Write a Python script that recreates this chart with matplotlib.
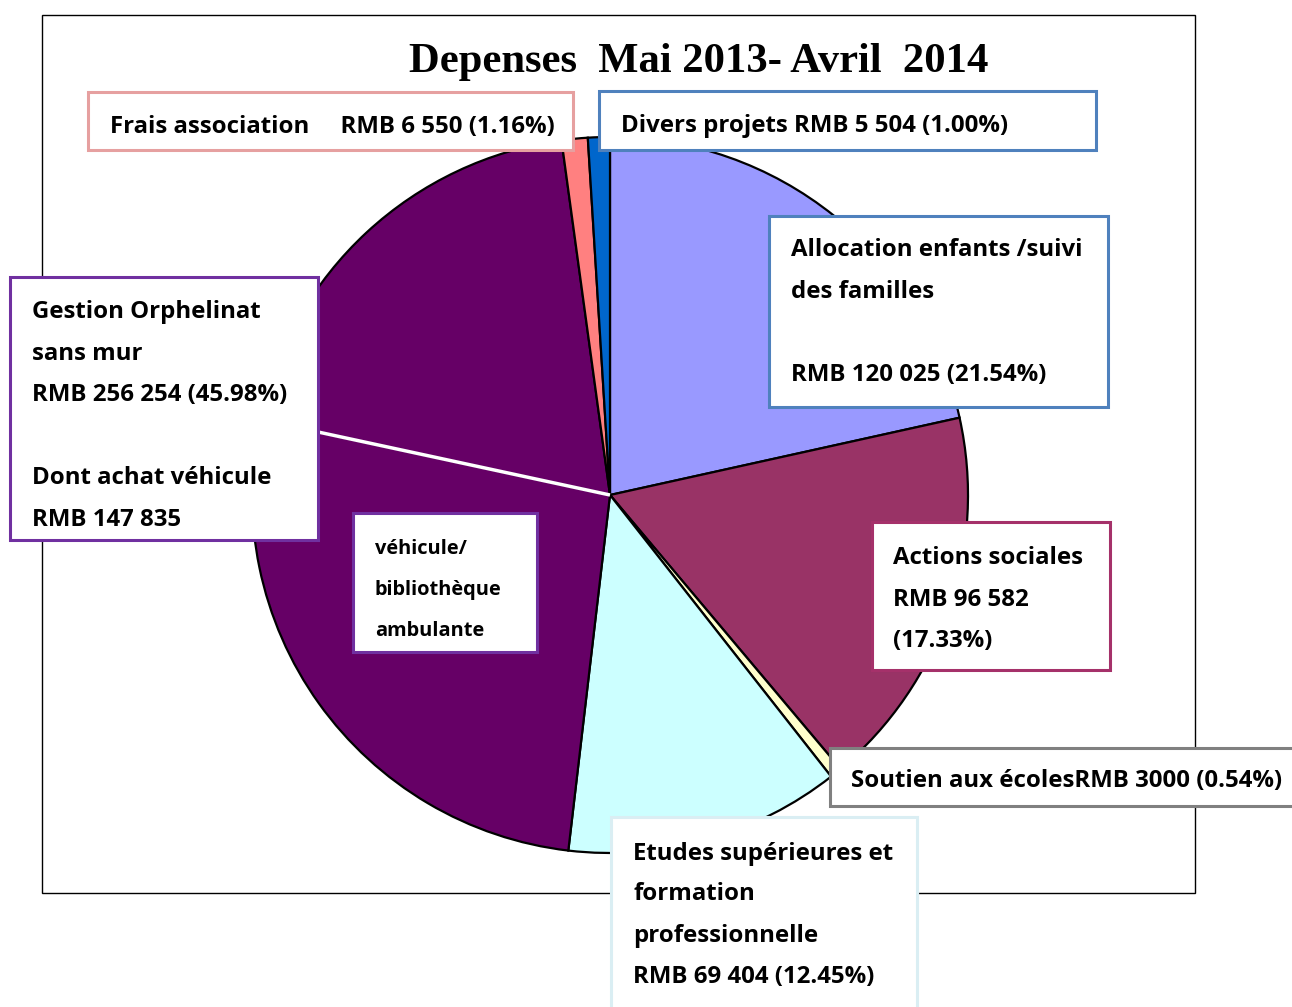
import numpy as np
import matplotlib
matplotlib.use("Agg")
import matplotlib.pyplot as plt
from matplotlib.patches import Rectangle

# ---- data ----
categories = ["Allocation enfants /suivi des familles", "Actions sociales",
              "Soutien aux écoles", "Etudes supérieures et formation professionnelle",
              "Gestion Orphelinat - achat véhicule", "Gestion Orphelinat - autres",
              "Frais association", "Divers projets"]
values = [120025, 96582, 3000, 69404, 147835, 108419, 6550, 5504]
colors = ["#9999FF", "#993366", "#FFFFCC", "#CCFFFF", "#660066", "#660066", "#FF8080", "#0066CC"]
title = "Depenses  Mai 2013- Avril  2014"

W, H = 1292, 1007
fig = plt.figure(figsize=(W / 100, H / 100), dpi=100)
ax = fig.add_axes([0, 0, 1, 1])
ax.set_xlim(0, W)
ax.set_ylim(0, H)
ax.set_aspect("equal")
ax.axis("off")

def Y(p):
    return H - p

# frame
ax.add_patch(Rectangle((42, Y(893)), 1195 - 42, 893 - 15, fill=False, ec="black", lw=1.0, zorder=1))

# pie
cx, cy, R = 610, Y(495), 358
wedges, _ = ax.pie(values, colors=colors, startangle=90, counterclock=False,
                   center=(cx, cy), radius=R, frame=True,
                   wedgeprops=dict(edgecolor="black", linewidth=1.6))
for w in wedges:
    w.set_zorder(2)
ax.set_xlim(0, W)
ax.set_ylim(0, H)
ax.axis("off")

# white separator inside Gestion slice (after the vehicle part)
frac = sum(values[:5]) / sum(values)
ang = np.deg2rad(90 - 360 * frac)
ax.plot([cx, cx + R * np.cos(ang)], [cy, cy + R * np.sin(ang)], color="white", lw=2.5, zorder=3,
        solid_capstyle="butt")

ax.text(699, Y(62), title, fontsize=30.7, fontweight="bold", family="Liberation Serif",
        ha="center", va="center", zorder=5)

FONT = "Open Sans"
FS = 17.3

def box(x0, y0, x1, y1, ec, lw=2.2):
    ax.add_patch(Rectangle((x0, Y(y1)), x1 - x0, y1 - y0, facecolor="white", edgecolor=ec,
                           lw=lw, zorder=4))

def lines(x, ys, texts, fs=FS):
    for y, t in zip(ys, texts):
        ax.text(x, Y(y + 1.5), t, fontsize=fs, fontweight="bold", family=FONT, ha="left",
                va="center", zorder=5)

box(88, 92, 573, 150, "#E6A0A0")
lines(110, [125], ["Frais association     RMB 6 550 (1.16%)"])

box(599, 91, 1096, 150, "#4F81BD")
lines(621, [125], ["Divers projets RMB 5 504 (1.00%)"])

box(769, 216, 1108, 407, "#4F81BD")
lines(791, [249, 291, 374], ["Allocation enfants /suivi", "des familles", "RMB 120 025 (21.54%)"])

box(10, 277, 318, 540, "#7030A0")
lines(32, [311, 352, 394, 477, 518], ["Gestion Orphelinat", "sans mur", "RMB 256 254 (45.98%)",
                                      "Dont achat véhicule", "RMB 147 835"])

box(353, 513, 537, 652, "#7030A0")
lines(375, [547, 589, 630], ["véhicule/", "bibliothèque", "ambulante"], fs=14.4)

box(872, 522, 1110, 670, "#A5316A")
lines(893, [557, 598, 639], ["Actions sociales", "RMB 96 582", "(17.33%)"])

box(830, 748, 1298, 806, "#808080")
lines(851, [780], ["Soutien aux écolesRMB 3000 (0.54%)"])

box(611, 817, 917, 1015, "#DAEEF3")
lines(633, [852, 893, 935, 976], ["Etudes supérieures et", "formation", "professionnelle",
                                  "RMB 69 404 (12.45%)"])

fig.savefig("out.png", dpi=100)
